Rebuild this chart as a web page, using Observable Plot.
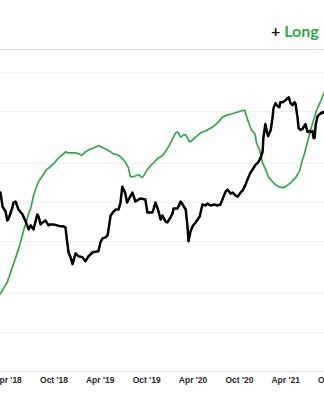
<!DOCTYPE html>
<html><head><meta charset="utf-8">
<script src="https://cdn.jsdelivr.net/npm/d3@7"></script>
<script src="https://cdn.jsdelivr.net/npm/@observablehq/plot@0.6"></script>
<style>
html,body{margin:0;padding:0;background:#fff;overflow:hidden;width:324px;height:400px}
#wrap{position:relative;width:324px;height:400px;overflow:hidden}
#legend{position:absolute;left:271px;top:23px;white-space:nowrap;font-family:Lato,sans-serif;font-weight:700;font-size:16px;line-height:16px}
</style></head><body><div id="wrap"><div id="legend"><span style="color:#111">+</span> <span style="color:#2eaa4a">Long</span></div><div id="chart"></div></div>
<script>
// Black series: price (USD, log scale)
const priceDates = ["2018-03-04","2018-03-12","2018-03-24","2018-03-31","2018-04-04","2018-04-20","2018-04-24","2018-05-02","2018-05-14","2018-05-30","2018-06-11","2018-06-23","2018-07-01","2018-07-12","2018-07-27","2018-08-01","2018-08-09","2018-08-17","2018-08-28","2018-09-09","2018-09-17","2018-09-29","2018-10-27","2018-11-07","2018-11-15","2018-11-23","2018-11-27","2018-12-05","2018-12-13","2018-12-25","2019-01-05","2019-01-21","2019-02-02","2019-02-14","2019-03-02","2019-03-25","2019-04-02","2019-04-10","2019-04-22","2019-04-30","2019-05-04","2019-05-12","2019-05-24","2019-06-01","2019-06-12","2019-06-20","2019-06-27","2019-07-08","2019-07-16","2019-07-28","2019-08-06","2019-08-18","2019-09-06","2019-09-26","2019-10-04","2019-10-16","2019-10-24","2019-11-05","2019-11-17","2019-11-25","2019-12-02","2019-12-14","2019-12-22","2020-01-03","2020-01-11","2020-01-15","2020-01-31","2020-02-12","2020-02-20","2020-02-27","2020-03-03","2020-03-10","2020-03-14","2020-03-22","2020-03-30","2020-04-11","2020-04-27","2020-05-08","2020-05-20","2020-05-28","2020-06-09","2020-06-25","2020-07-06","2020-07-18","2020-07-30","2020-08-07","2020-08-15","2020-08-27","2020-09-04","2020-09-16","2020-09-24","2020-10-05","2020-10-13","2020-10-25","2020-11-01","2020-11-13","2020-11-21","2020-12-03","2020-12-15","2020-12-23","2020-12-31","2021-01-03","2021-01-11","2021-01-18","2021-01-22","2021-02-01","2021-02-08","2021-02-12","2021-02-20","2021-02-28","2021-03-07","2021-03-11","2021-03-20","2021-04-01","2021-04-08","2021-04-13","2021-04-20","2021-04-28","2021-05-06","2021-05-10","2021-05-18","2021-05-22","2021-05-30","2021-06-06","2021-06-18","2021-06-26","2021-07-04","2021-07-08","2021-07-16","2021-07-20","2021-07-24","2021-07-28","2021-08-05","2021-08-13","2021-08-25","2021-09-02","2021-09-25"];
const priceValues = [11890,9290,8510,7260,7390,9130,9970,10150,8810,8070,7140,6200,6650,6200,8070,7790,6770,7010,7260,6650,6770,6770,6540,6540,6420,4760,4130,3790,3350,4060,3850,3790,3530,3850,4130,4210,4930,5290,5380,5580,6200,7930,8510,8810,8810,9970,13210,11890,9970,11080,11890,10150,10700,10510,8360,8360,8360,9970,8510,7390,7930,7140,7010,7660,8210,8970,8970,10150,9630,9130,8810,6540,5020,5980,6540,7010,7790,9630,9460,9790,9460,9630,9460,9630,11080,12100,12530,11680,11890,11280,11080,11890,12310,13690,14950,16910,17820,19460,20520,22010,24470,31300,40050,34190,32420,36040,44510,53090,58000,55000,54000,59000,59000,61130,63300,64400,58000,56000,59000,57000,44510,37330,36040,36670,40050,34790,35410,34790,35410,31300,31300,39360,46110,47770,49480,48620,49480];

// Green series: own axis (not shown), as 0–100 share of the chart height
const longDates = ["2018-03-04","2018-03-24","2018-03-31","2018-04-12","2018-04-24","2018-05-02","2018-05-14","2018-05-22","2018-06-03","2018-06-11","2018-06-23","2018-07-01","2018-07-12","2018-07-20","2018-08-01","2018-08-17","2018-09-01","2018-09-17","2018-10-03","2018-10-19","2018-11-03","2018-11-15","2018-11-27","2018-12-13","2018-12-25","2019-01-05","2019-01-13","2019-01-21","2019-02-02","2019-02-14","2019-03-06","2019-03-25","2019-04-14","2019-04-30","2019-05-12","2019-05-23","2019-06-08","2019-06-20","2019-07-02","2019-07-10","2019-07-21","2019-07-29","2019-08-10","2019-08-30","2019-09-14","2019-10-04","2019-10-16","2019-10-28","2019-11-17","2019-12-02","2019-12-18","2019-12-30","2020-01-11","2020-01-23","2020-01-31","2020-02-12","2020-02-24","2020-03-03","2020-03-18","2020-03-30","2020-04-11","2020-05-01","2020-05-20","2020-06-17","2020-07-06","2020-07-26","2020-08-11","2020-08-27","2020-09-24","2020-10-08","2020-10-21","2020-10-25","2020-11-05","2020-11-17","2020-12-01","2020-12-07","2020-12-19","2020-12-31","2021-01-12","2021-01-23","2021-02-04","2021-02-16","2021-03-03","2021-03-20","2021-04-01","2021-04-20","2021-05-10","2021-05-26","2021-06-06","2021-06-14","2021-06-26","2021-07-08","2021-07-20","2021-08-01","2021-08-17","2021-09-02","2021-09-25"];
const longValues = [24.1,26.9,27.8,30.6,33.3,35.2,38.0,40.1,43.8,45.7,49.1,50.6,54.6,56.5,59.0,60.8,62.7,63.6,64.8,66.4,67.3,68.2,67.9,67.9,67.9,67.6,67.3,67.3,68.2,68.8,69.4,70.1,69.4,68.8,68.2,67.6,67.3,66.7,65.7,64.8,63.3,60.5,60.5,61.1,60.2,62.7,63.9,64.8,66.4,67.0,68.8,70.4,72.2,74.1,74.4,72.8,73.5,73.5,71.3,71.9,72.8,74.1,74.7,75.9,77.2,79.0,79.6,79.9,80.6,80.9,81.2,80.2,77.5,75.0,73.8,71.0,68.8,64.8,62.7,60.5,59.3,58.3,57.4,57.1,57.4,58.6,60.2,62.3,65.7,67.6,71.3,75.0,78.1,81.2,84.0,87.0,92.0];

const gridTicks = [1000,2000,5000,10000,20000,50000,100000];
const tickDates = ["2018-04-01","2018-10-01","2019-04-01","2019-10-01","2020-04-01","2020-10-01","2021-04-01","2021-10-01"];
const yMin = 500, yMax = 150000;

const parse = d3.utcParse("%Y-%m-%d");
const price = priceDates.map((d, i) => ({date: parse(d), value: priceValues[i]}));
const longSeries = longDates.map((d, i) => ({date: parse(d), value: yMin * Math.pow(yMax / yMin, longValues[i] / 100)}));
const fmt = d => d3.utcFormat("%b")(d) + " '" + d3.utcFormat("%y")(d);

const chart = Plot.plot({
  width: 324, height: 400,
  marginTop: 49, marginBottom: 29, marginLeft: 0, marginRight: 0,
  style: {fontFamily: "'Liberation Sans', Arial, sans-serif", fontSize: "8.5px", fontWeight: "bold", color: "#2a2a2a", background: "#fff"},
  x: {type: "utc", domain: [parse("2018-03-04"), parse("2021-09-01")], ticks: tickDates.map(parse), tickFormat: fmt, tickSize: 0, tickPadding: 5, label: null},
  y: {type: "log", domain: [yMin, yMax], axis: null},
  marks: [
    Plot.ruleY(gridTicks, {stroke: "#efefef"}),
    Plot.ruleY([yMax], {stroke: "#dcdcdc"}),
    Plot.ruleY([yMin], {stroke: "#e4e4e4"}),
    Plot.line(longSeries, {x: "date", y: "value", stroke: "#2eaa4a", strokeWidth: 1.7}),
    Plot.line(price, {x: "date", y: "value", stroke: "#000", strokeWidth: 2.5})
  ]
});
document.getElementById("chart").appendChild(chart);
</script>
</body></html>
